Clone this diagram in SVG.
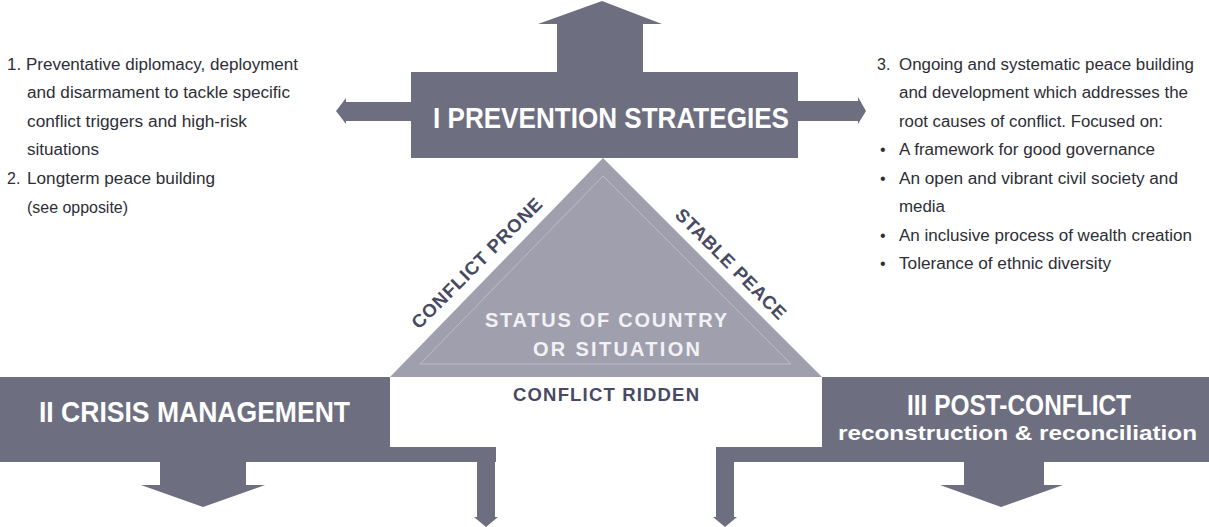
<svg xmlns="http://www.w3.org/2000/svg" width="1209" height="527" viewBox="0 0 1209 527">
<style>
.box{fill:#6e6e81}
.tri{fill:#a09fad}
.inner{fill:none;stroke:#bdbcc8;stroke-width:1}
.arrow{fill:#6e6e81}
.head{font-family:"Liberation Sans",Arial,sans-serif;font-weight:bold;fill:#ffffff}
.lab{font-family:"Liberation Sans",Arial,sans-serif;font-weight:bold;fill:#474a62;font-size:18.5px}
.tlab{font-family:"Liberation Sans",Arial,sans-serif;font-weight:bold;fill:#f2f2f6;font-size:20px}
.body{font-family:"Liberation Sans",Arial,sans-serif;font-size:16px;fill:#2e2e36}
</style>
<rect width="1209" height="527" fill="#ffffff"/>
<g id="connectors">
<polygon class="arrow" points="557,74 557,24 538,24 602,1 662,24 643,24 643,74"/>
<polygon class="arrow" points="412,102 346,102 346,98 336,111 346,124 346,121 412,121"/>
<polygon class="arrow" points="797,101 858,101 858,97 866,111 858,124 858,121 797,121"/>
<polygon class="arrow" points="160,461 160,485 141,485 203,507 265,485 246,485 246,461"/>
<polygon class="arrow" points="477,461 477,517 474,517 486,527 498,517 495,517 495,461"/>
<polygon class="arrow" points="716,461 716,517 713,517 725,527 737,517 734,517 734,461"/>
<polygon class="arrow" points="964,461 964,485 940,485 1001,507 1063,485 1044,485 1044,461"/>
</g>
<g id="node-prevention">
<rect class="box" x="411" y="72" width="387" height="86"/>
<text class="head" x="433" y="128" font-size="30" textLength="356" lengthAdjust="spacingAndGlyphs">I PREVENTION STRATEGIES</text>
</g>
<g id="node-status">
<polygon class="tri" points="603,158 822,377 390,377"/>
<polygon class="inner" points="603,176 791,364 420,364"/>
<text class="tlab" x="485" y="327" textLength="242" lengthAdjust="spacing">STATUS OF COUNTRY</text>
<text class="tlab" x="533" y="356" textLength="167" lengthAdjust="spacing">OR SITUATION</text>
<text class="lab" x="513" y="401" textLength="186" lengthAdjust="spacing">CONFLICT RIDDEN</text>
<text class="lab" transform="translate(419,330) rotate(-45)" textLength="176" lengthAdjust="spacing">CONFLICT PRONE</text>
<text class="lab" transform="translate(674,216) rotate(45)" textLength="148" lengthAdjust="spacing">STABLE PEACE</text>
</g>
<g id="node-crisis">
<polygon class="box" points="0,377 390,377 390,447 496,447 496,462 0,462"/>
<text class="head" x="39" y="422" font-size="30" textLength="311" lengthAdjust="spacingAndGlyphs">II CRISIS MANAGEMENT</text>
</g>
<g id="node-post">
<polygon class="box" points="822,377 1209,377 1209,462 716,462 716,447 822,447"/>
<text class="head" x="907" y="415" font-size="29" textLength="224" lengthAdjust="spacingAndGlyphs">III POST-CONFLICT</text>
<text class="head" x="838" y="440" font-size="21" textLength="359" lengthAdjust="spacingAndGlyphs">reconstruction &amp; reconciliation</text>
</g>
<g id="text-left">
<text class="body" x="7" y="69.5" textLength="291" lengthAdjust="spacingAndGlyphs">1. Preventative diplomacy, deployment</text>
<text class="body" x="27" y="98" textLength="263" lengthAdjust="spacingAndGlyphs">and disarmament to tackle specific</text>
<text class="body" x="27" y="126.5" textLength="220" lengthAdjust="spacingAndGlyphs">conflict triggers and high-risk</text>
<text class="body" x="27" y="155" textLength="72" lengthAdjust="spacingAndGlyphs">situations</text>
<text class="body" x="7" y="184">2.</text>
<text class="body" x="27" y="184" textLength="188" lengthAdjust="spacingAndGlyphs">Longterm peace building</text>
<text class="body" x="27" y="212.5" textLength="101" lengthAdjust="spacingAndGlyphs">(see opposite)</text>
</g>
<g id="text-right">
<text class="body" x="877" y="69.5">3.</text>
<text class="body" x="899" y="69.5" textLength="295" lengthAdjust="spacingAndGlyphs">Ongoing and systematic peace building</text>
<text class="body" x="899" y="98" textLength="289" lengthAdjust="spacingAndGlyphs">and development which addresses the</text>
<text class="body" x="899" y="126.5" textLength="264" lengthAdjust="spacingAndGlyphs">root causes of conflict. Focused on:</text>
<text class="body" x="880" y="155">•</text>
<text class="body" x="899" y="155" textLength="256" lengthAdjust="spacingAndGlyphs">A framework for good governance</text>
<text class="body" x="880" y="183.5">•</text>
<text class="body" x="899" y="183.5" textLength="279" lengthAdjust="spacingAndGlyphs">An open and vibrant civil society and</text>
<text class="body" x="899" y="212" textLength="46" lengthAdjust="spacingAndGlyphs">media</text>
<text class="body" x="880" y="240.5">•</text>
<text class="body" x="899" y="240.5" textLength="293" lengthAdjust="spacingAndGlyphs">An inclusive process of wealth creation</text>
<text class="body" x="880" y="269">•</text>
<text class="body" x="899" y="269" textLength="212" lengthAdjust="spacingAndGlyphs">Tolerance of ethnic diversity</text>
</g>
</svg>
